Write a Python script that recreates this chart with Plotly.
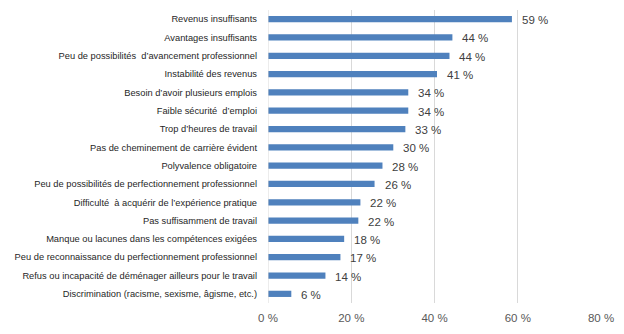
import plotly.graph_objects as go

categories = [
    "Revenus insuffisants",
    "Avantages insuffisants",
    "Peu de possibilités  d’avancement professionnel",
    "Instabilité des revenus",
    "Besoin d’avoir plusieurs emplois",
    "Faible sécurité  d’emploi",
    "Trop d’heures de travail",
    "Pas de cheminement de carrière évident",
    "Polyvalence obligatoire",
    "Peu de possibilités de perfectionnement professionnel",
    "Difficulté  à acquérir de l’expérience pratique",
    "Pas suffisamment de travail",
    "Manque ou lacunes dans les compétences exigées",
    "Peu de reconnaissance du perfectionnement professionnel",
    "Refus ou incapacité de déménager ailleurs pour le travail",
    "Discrimination (racisme, sexisme, âgisme, etc.)",
]
values = [58.6, 44.3, 43.6, 40.6, 33.7, 33.7, 33.0, 30.1, 27.5, 25.6, 22.2, 21.7, 18.3, 17.4, 13.8, 5.6]
value_labels = ["59 %", "44 %", "44 %", "41 %", "34 %", "34 %", "33 %", "30 %", "28 %", "26 %",
                "22 %", "22 %", "18 %", "17 %", "14 %", "6 %"]
tick_vals = [0, 20, 40, 60, 80]
tick_text = ["0 %", "20 %", "40 %", "60 %", "80 %"]

FONT = "Liberation Sans"

fig = go.Figure()
fig.add_trace(go.Bar(
    x=values,
    y=categories,
    orientation="h",
    marker=dict(color="#4F81BD", line=dict(width=0)),
    width=0.34,
    hoverinfo="skip",
))

annotations = []
for c, v, t in zip(categories, values, value_labels):
    annotations.append(dict(
        x=v, y=c, xref="x", yref="y",
        text=t,
        showarrow=False, xanchor="left", yanchor="middle",
        xshift=8, yshift=-1,
        font=dict(family=FONT, size=11.5, color="#404040"),
    ))

fig.update_layout(
    width=624, height=334,
    margin=dict(l=268, r=23, t=10, b=28),
    paper_bgcolor="white", plot_bgcolor="white",
    showlegend=False,
    annotations=annotations,
    xaxis=dict(
        range=[0, 80],
        tickvals=tick_vals, ticktext=tick_text,
        showgrid=True, gridcolor="#D9D9D9", gridwidth=1,
        zeroline=False, showline=False,
        tickfont=dict(family=FONT, size=11.5, color="#595959"),
        ticklabelstandoff=6,
        fixedrange=True,
    ),
    yaxis=dict(
        categoryorder="array", categoryarray=categories[::-1],
        autorange=True,
        showgrid=False, zeroline=False, showline=False,
        tickfont=dict(family=FONT, size=9.3, color="#262626"),
        ticklabelstandoff=10,
        automargin=False,
        fixedrange=True,
    ),
)
fig.add_shape(type="line", xref="x", yref="paper", x0=0, x1=0, y0=0, y1=1,
              line=dict(color="#D9D9D9", width=1))

fig.write_html("out.html")
